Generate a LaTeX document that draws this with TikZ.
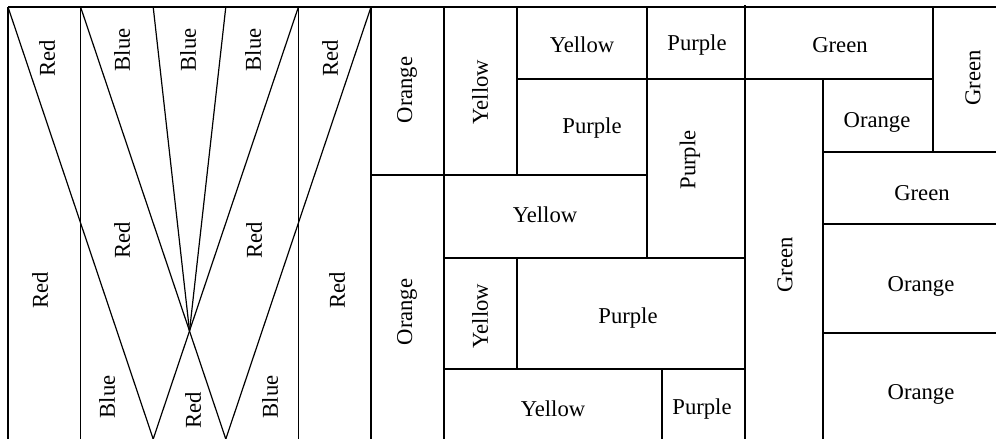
\documentclass[tikz,border=0pt]{standalone}
\usepackage{fontspec}
\setmainfont{Liberation Serif}
\begin{document}
\begin{tikzpicture}[x=0.75pt,y=0.75pt,yscale=-1,xscale=1,
	line width=0.9pt,
	lbl/.style={inner sep=0.75pt,font=\fontsize{17}{20}\selectfont},
	vlbl/.style={lbl,rotate=90}]
	%uncomment if require: \path (0,439); %set diagram left start at 0, and has height of 439
	\useasboundingbox (0,0) rectangle (996,439);
	
	%Fan points
	\coordinate (p0) at (8,7);
	\coordinate (p1) at (80.6,7);
	\coordinate (p2) at (153.2,7);
	\coordinate (p3) at (225.8,7);
	\coordinate (p4) at (298.4,7);
	\coordinate (p5) at (371,7);
	\coordinate (q2) at (153.2,439);
	\coordinate (q3) at (225.8,439);
	\coordinate (cx) at (intersection of p1--q3 and p4--q2);
	
	%Straight Lines: top edge
	\draw (8,7) -- (996,7) ;
	%Straight Lines: left panel columns
	\draw (8,7) -- (8,439) ;
	\draw (80.6,7) -- (80.6,439) ;
	\draw (298.4,7) -- (298.4,439) ;
	\draw (371,7) -- (371,439) ;
	%Straight Lines: fan
	\draw (p0) -- (q2) ;
	\draw (p1) -- (q3) ;
	\draw (p2) -- (cx) ;
	\draw (p3) -- (cx) ;
	\draw (p4) -- (q2) ;
	\draw (p5) -- (q3) ;
	
	%Straight Lines: middle panel
	\draw (444,7) -- (444,439) ;
	\draw (517,7) -- (517,175) ;
	\draw (647,7) -- (647,258) ;
	\draw (745,5) -- (745,439) ;
	\draw (517,79) -- (745,79) ;
	\draw (371,175) -- (647,175) ;
	\draw (444,258) -- (745,258) ;
	\draw (517,258) -- (517,369) ;
	\draw (444,369) -- (745,369) ;
	\draw (662,369) -- (662,439) ;
	
	%Straight Lines: right panel
	\draw (745,79) -- (933,79) ;
	\draw (933,7) -- (933,152) ;
	\draw (823,79) -- (823,439) ;
	\draw (823,152) -- (996,152) ;
	\draw (823,224) -- (996,224) ;
	\draw (823,333) -- (996,333) ;
	
	% Text Node
	\node [vlbl] (lred1) at (47,58) {Red};
	\node [vlbl] (lblue1) at (122,50) {Blue};
	\node [vlbl] (lblue2) at (188,50) {Blue};
	\node [vlbl] (lblue3) at (253,50) {Blue};
	\node [vlbl] (lred2) at (330,58) {Red};
	\node [vlbl] (lred3) at (122,240) {Red};
	\node [vlbl] (lred4) at (254,240) {Red};
	\node [vlbl] (lred5) at (40,290) {Red};
	\node [vlbl] (lred6) at (337,290) {Red};
	\node [vlbl] (lblue4) at (107,397) {Blue};
	\node [vlbl] (lred7) at (193,410) {Red};
	\node [vlbl] (lblue5) at (270,397) {Blue};
	
	% Text Node
	\node [vlbl] (morange1) at (407,90) {Orange};
	\node [vlbl] (myellow1) at (480,92) {Yellow};
	\node [lbl] (myellow2) at (582,45) {Yellow};
	\node [lbl] (mpurple1) at (697,45) {Purple};
	\node [lbl] (mpurple2) at (592,128) {Purple};
	\node [vlbl] (mpurple3) at (690,160) {Purple};
	\node [vlbl] (morange2) at (407,312) {Orange};
	\node [lbl] (myellow3) at (545,215) {Yellow};
	\node [vlbl] (myellow4) at (480,316) {Yellow};
	\node [lbl] (mpurple4) at (628,318) {Purple};
	\node [lbl] (myellow5) at (553,409) {Yellow};
	\node [lbl] (mpurple5) at (702,409) {Purple};
	
	% Text Node
	\node [lbl] (rgreen1) at (840,45) {Green};
	\node [vlbl] (rgreen2) at (973,78) {Green};
	\node [vlbl] (rgreen3) at (785,265) {Green};
	\node [lbl] (rorange1) at (877,122) {Orange};
	\node [lbl] (rgreen4) at (922,193) {Green};
	\node [lbl] (rorange2) at (921,286) {Orange};
	\node [lbl] (rorange3) at (921,394) {Orange};
	
\end{tikzpicture}
\end{document}
